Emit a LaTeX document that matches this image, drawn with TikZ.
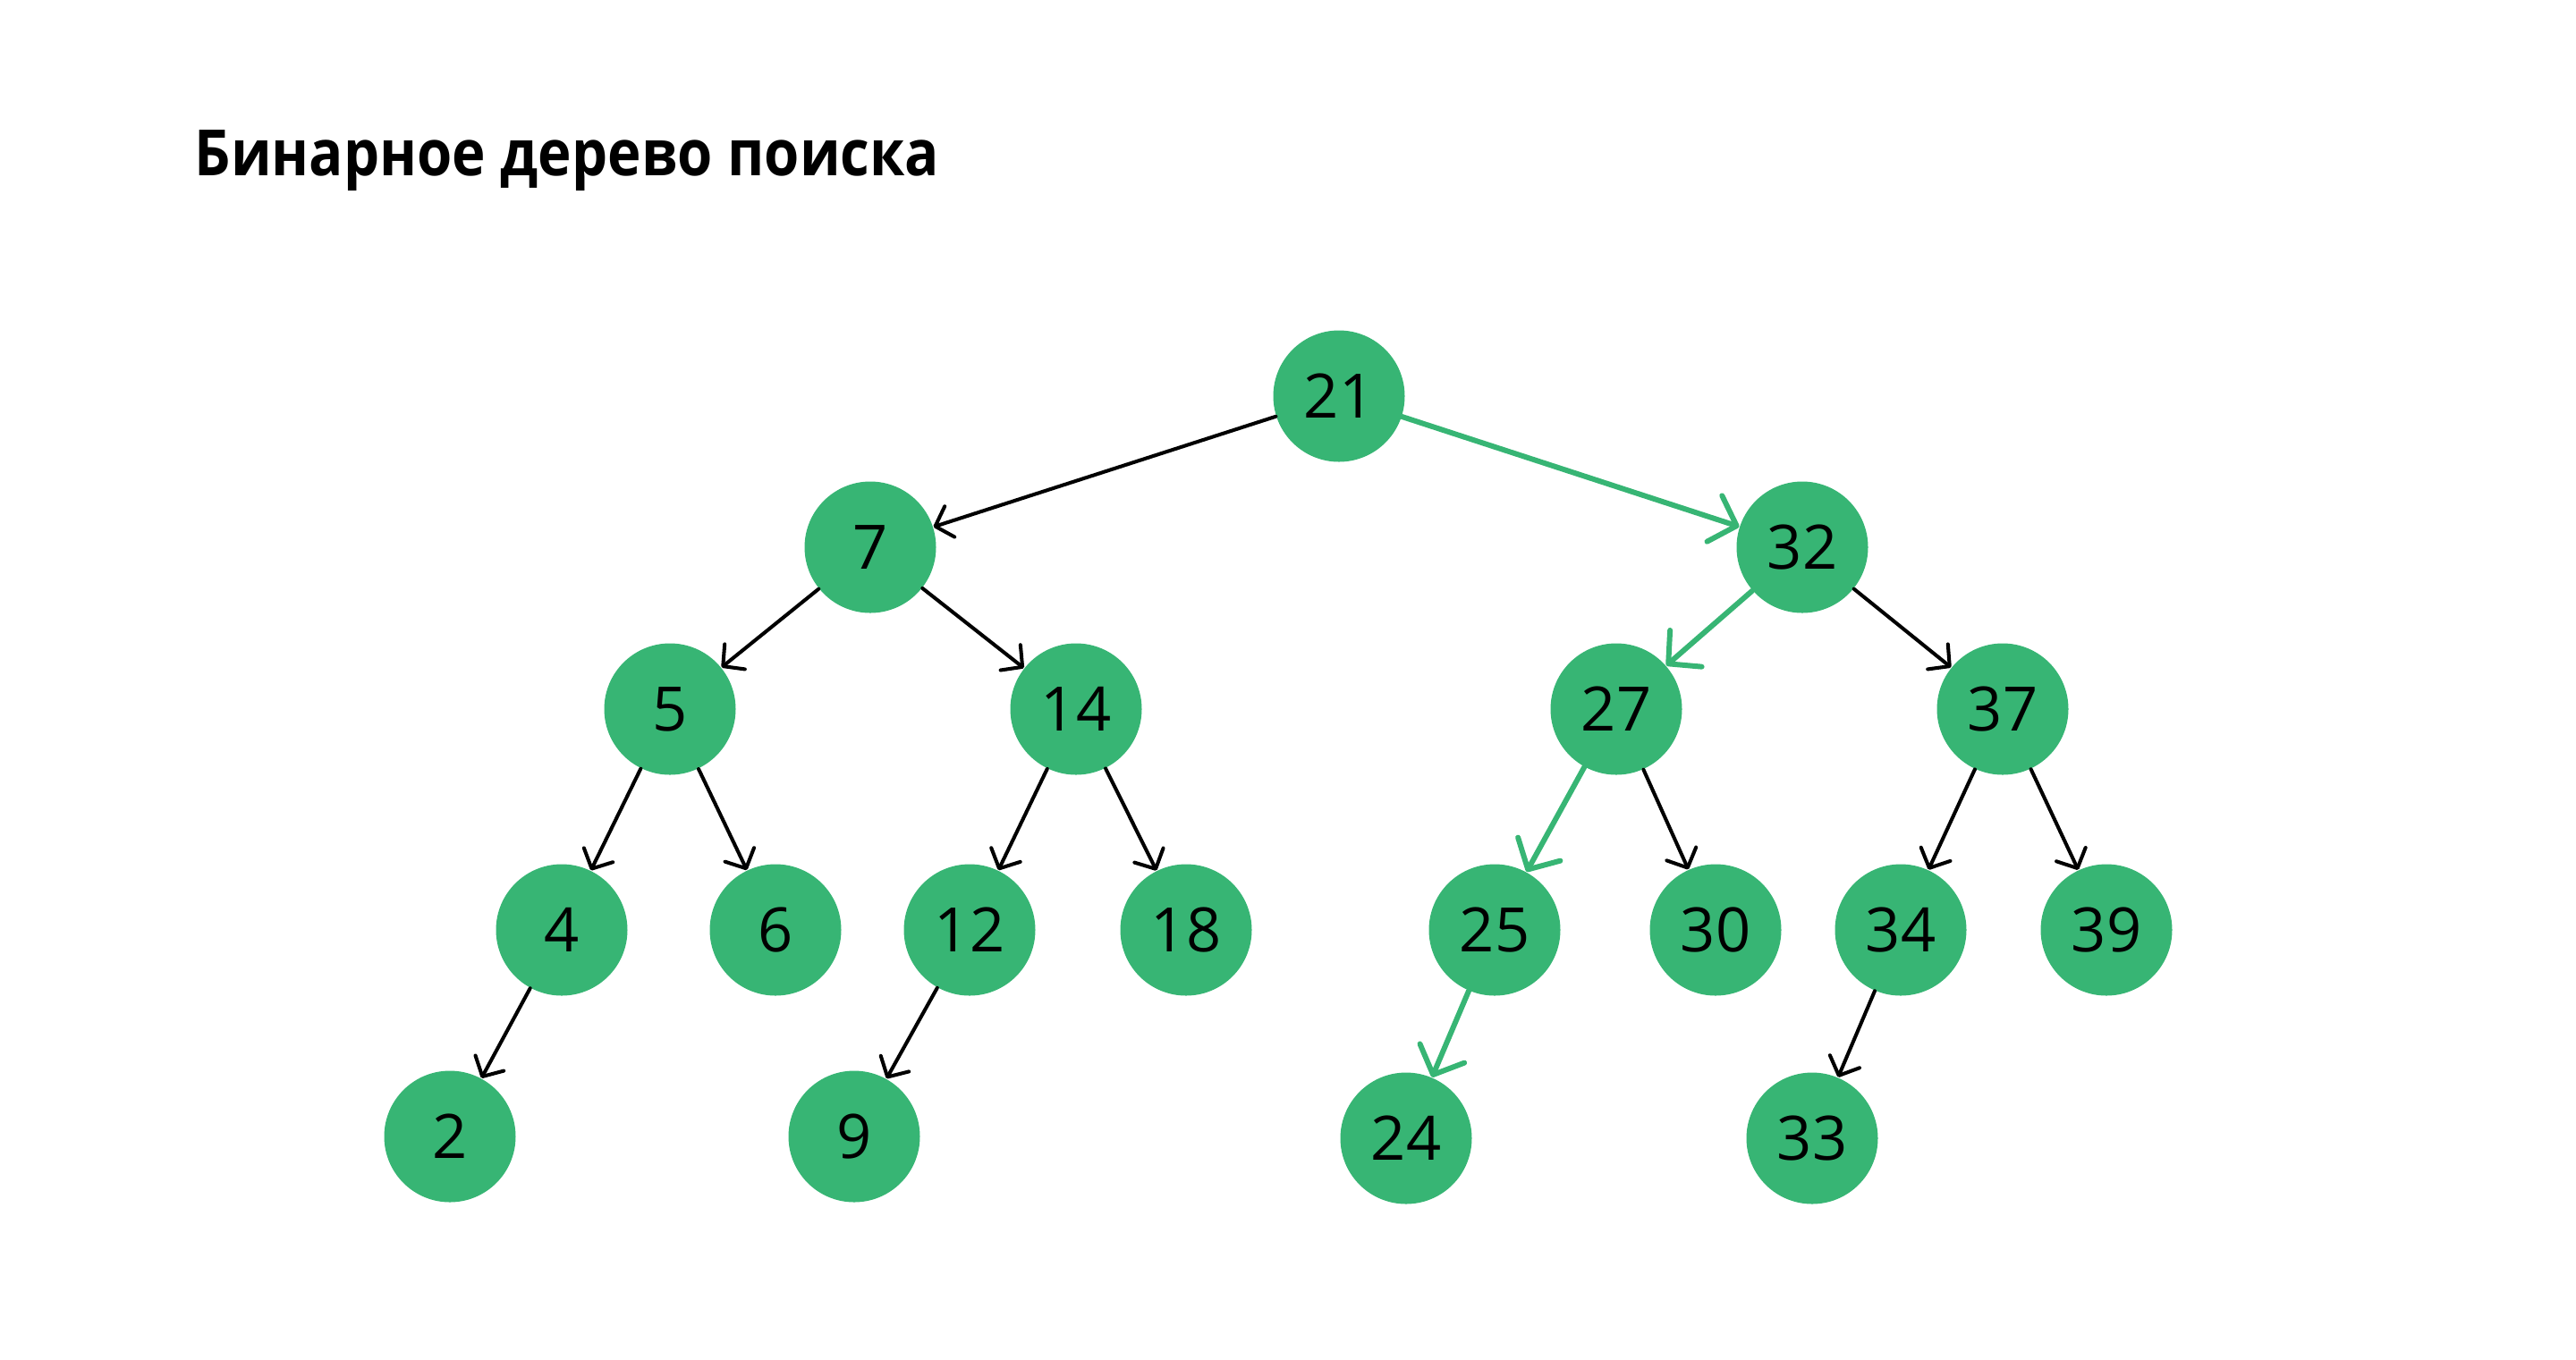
\documentclass[tikz,border=0pt]{standalone}
\usepackage{fontspec}
\setmainfont{Open Sans}
\usetikzlibrary{arrows.meta}

\definecolor{treegreen}{RGB}{55,181,116}

\tikzset{
    bst/.style={circle, fill=treegreen, minimum size=1.47cm, inner sep=0pt, font=\fontsize{19.5}{22}\selectfont},
    edge/.style={line width=1.15pt, line cap=round, -{Straight Barb[length=1.7mm,width=3.6mm,round]}},
    path/.style={line width=1.7pt, line cap=round, draw=treegreen, -{Straight Barb[length=2.6mm,width=5.4mm,round]}}
}

\begin{document}
\begin{tikzpicture}
    \useasboundingbox (0,0) rectangle (28.8,-15.2);

    % Title
    \node[anchor=base west, inner sep=0pt, xscale=0.89, transform shape, font=\fontsize{20.3}{24}\selectfont\bfseries] (title) at (2.17,-1.96) {Бинарное дерево поиска};

    % Root and first level
    \node[bst] (n21) at (14.97,-4.43) {21};
    \node[bst] (n7) at (9.73,-6.12) {7};
    \node[bst] (n32) at (20.15,-6.12) {32};

    % Second level
    \node[bst] (n5) at (7.49,-7.93) {5};
    \node[bst] (n14) at (12.03,-7.93) {14};
    \node[bst] (n27) at (18.07,-7.93) {27};
    \node[bst] (n37) at (22.39,-7.93) {37};

    % Third level
    \node[bst] (n4) at (6.28,-10.40) {4};
    \node[bst] (n6) at (8.67,-10.40) {6};
    \node[bst] (n12) at (10.84,-10.40) {12};
    \node[bst] (n18) at (13.26,-10.40) {18};
    \node[bst] (n25) at (16.71,-10.40) {25};
    \node[bst] (n30) at (19.18,-10.40) {30};
    \node[bst] (n34) at (21.25,-10.40) {34};
    \node[bst] (n39) at (23.55,-10.40) {39};

    % Leaves
    \node[bst] (n2) at (5.03,-12.71) {2};
    \node[bst] (n9) at (9.55,-12.71) {9};
    \node[bst] (n24) at (15.72,-12.73) {24};
    \node[bst] (n33) at (20.26,-12.73) {33};

    % Plain edges
    \draw[edge] (n21) -- (n7);
    \draw[edge] (n7) -- (n5);
    \draw[edge] (n7) -- (n14);
    \draw[edge] (n5) -- (n4);
    \draw[edge] (n5) -- (n6);
    \draw[edge] (n14) -- (n12);
    \draw[edge] (n14) -- (n18);
    \draw[edge] (n4) -- (n2);
    \draw[edge] (n12) -- (n9);
    \draw[edge] (n32) -- (n37);
    \draw[edge] (n27) -- (n30);
    \draw[edge] (n37) -- (n34);
    \draw[edge] (n37) -- (n39);
    \draw[edge] (n34) -- (n33);

    % Search path for 24 (green)
    \draw[path] (n21) -- (n32);
    \draw[path] (n32) -- (n27);
    \draw[path] (n27) -- (n25);
    \draw[path] (n25) -- (n24);

\end{tikzpicture}
\end{document}
